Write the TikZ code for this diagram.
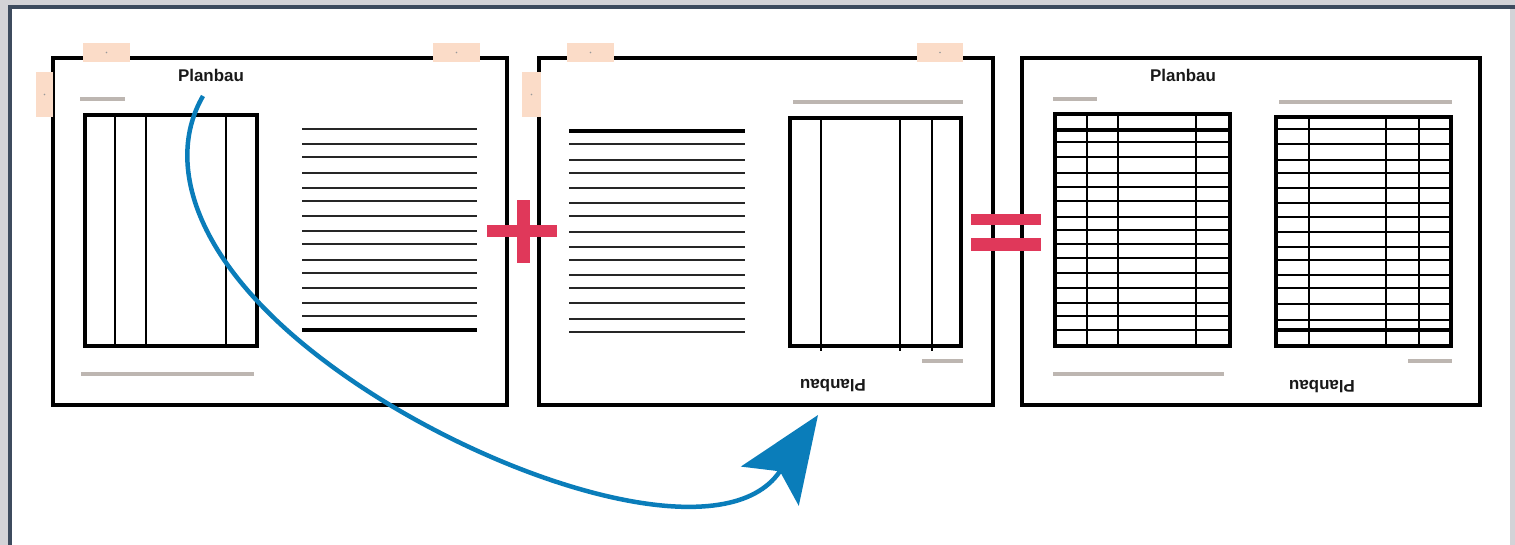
\documentclass[tikz,border=0pt]{standalone}
\usepackage{fontspec}
\setsansfont{Liberation Sans}
\usepackage{tikz}
\usetikzlibrary{arrows.meta}
\definecolor{tapepeach}{HTML}{FBDCC8}
\definecolor{rulegrey}{HTML}{BDB6B1}
\definecolor{signred}{HTML}{E0385A}
\definecolor{arrowblue}{HTML}{0A7DBA}
\definecolor{framedark}{HTML}{3D4B5E}
\definecolor{framegrey}{HTML}{D3D3D7}

\begin{document}
\begin{tikzpicture}[x=1bp,y=-1bp,
  sheet/.style={line width=4bp},
  tablebox/.style={line width=4bp},
  gridline/.style={line width=2bp},
  textline/.style={line width=2.5bp,black!85},
  boldline/.style={line width=4.5bp},
  greybar/.style={line width=4bp,rulegrey},
  tape/.style={fill=tapepeach},
  sign/.style={fill=signred},
  planlabel/.style={font=\sffamily\bfseries\fontsize{17}{17}\selectfont,text=black!90,inner sep=0pt}]
\useasboundingbox (0,0) rectangle (1515,545);
% screen frame
\fill[framegrey] (0,0) rectangle (1515,545);
\fill[white] (10,9) rectangle (1510,545);
\fill[framedark] (8,5) rectangle (1515,9);
\fill[framedark] (8,5) rectangle (12,545);
% the three sheets
\draw[sheet] (53,58) rectangle (507,405);
\draw[sheet] (539,58) rectangle (993,405);
\draw[sheet] (1022,58) rectangle (1480,405);
% sheet 1: front side
\node[planlabel] (lbl1) at (211,75) {Planbau};
\draw[greybar] (80,99) -- (125,99);
\draw[greybar] (81,374) -- (254,374);
\foreach \x in {115,146,226} \draw[gridline] (\x,115) -- (\x,346);
\draw[tablebox] (85,115) rectangle (257,346);
\foreach \y in {129,144,157,173,188,201,216,231,244,260,273,288,303,316}
  \draw[textline] (302,\y) -- (477,\y);
\draw[boldline] (302,330) -- (477,330);
% sheet 2: back side
\node[planlabel,rotate=180] (lbl2) at (833,386) {Planbau};
\draw[greybar] (793,102) -- (963,102);
\draw[greybar] (922,361) -- (963,361);
\draw[boldline] (569,131) -- (745,131);
\foreach \y in {144,160,173,188,203,216,232,247,260,275,288,303,319,332}
  \draw[textline] (569,\y) -- (745,\y);
\foreach \x in {821,900,932} \draw[gridline] (\x,118) -- (\x,351);
\draw[tablebox] (790,118) rectangle (961,346);
% sheet 3: both sides together
\node[planlabel] (lbl3) at (1183,75) {Planbau};
\node[planlabel,rotate=180] (lbl4) at (1322,387) {Planbau};
\draw[greybar] (1053,99) -- (1097,99);
\draw[greybar] (1279,102) -- (1452,102);
\draw[greybar] (1053,374) -- (1224,374);
\draw[greybar] (1408,361) -- (1452,361);
\foreach \x in {1087,1118,1196} \draw[gridline] (\x,114) -- (\x,346);
\foreach \y in {142,157,173,187,201,217,230,244,258,273,288,303,316,330}
  \draw[gridline] (1055,\y) -- (1230,\y);
\draw[boldline] (1055,130) -- (1230,130);
\draw[tablebox] (1055,114) rectangle (1230,346);
\foreach \x in {1309,1386,1419} \draw[gridline] (\x,117) -- (\x,346);
\foreach \y in {129,144,160,173,188,203,217,232,247,260,275,288,304,320}
  \draw[gridline] (1276,\y) -- (1451,\y);
\draw[boldline] (1276,330) -- (1451,330);
\draw[tablebox] (1276,117) rectangle (1451,346);
% tape strips
\foreach \a/\b/\c/\d in {83/43/130/62, 433/43/480/62, 36/72/53/117,
                        567/43/614/62, 917/43/963/62, 522/72/541/117} {
  \fill[tape] (\a,\b) rectangle (\c,\d);
  \fill[black!40] ({(\a+\c)/2},{(\b+\d)/2}) circle (0.8bp);
}
% plus and equals
\fill[sign] (487,225) rectangle (557,237);
\fill[sign] (517,200) rectangle (530,263);
\fill[sign] (971,214) rectangle (1041,225);
\fill[sign] (971,238) rectangle (1041,251);
% turning arrow
\coordinate (arrfrom) at (203,96);
\coordinate (arrmid) at (390,405);
\coordinate (arrto) at (818,415);
\draw[arrowblue,line width=4.5bp,-{Stealth[length=86bp,width=70bp,inset=18bp,line width=0pt]}]
  (arrfrom) .. controls (160,170) and (200,290) .. (arrmid)
  .. controls (540,495) and (730,545) .. (arrto);
\end{tikzpicture}
\end{document}
